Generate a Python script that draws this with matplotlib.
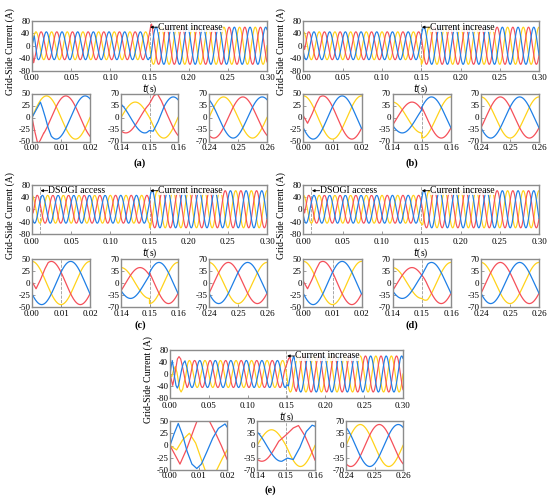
import numpy as np
import matplotlib
matplotlib.use('Agg')
import matplotlib.pyplot as plt

plt.rcParams['font.family'] = ['Liberation Serif', 'DejaVu Serif']
plt.rcParams['axes.unicode_minus'] = False
plt.rcParams['font.size'] = 6.5

W, H = 550, 501

# waveform parameters
freq = 50.0
amp_before = 45.0
amp_after = 60.0
t_step = 0.15
phase_yellow, phase_red, phase_blue = 0.0, -120.0, 120.0

panel_names = ['a', 'b', 'c', 'd', 'e']
panel_shift = [0.0, 90.0, 90.0, 90.0, 0.0]
panel_ramp = [0.0, 0.0, 0.0, 0.002, 0.0]
panel_events = [[0.15], [0.15], [0.01, 0.15], [0.01, 0.15], [0.15]]
panel_notes = [[(0.15, 'Current increase')],
               [(0.15, 'Current increase')],
               [(0.01, 'DSOGI access'), (0.15, 'Current increase')],
               [(0.01, 'DSOGI access'), (0.15, 'Current increase')],
               [(0.15, 'Current increase')]]

# transient parts read point by point
a_red_start_t = [0, 0.001, 0.002, 0.0028, 0.004]
a_red_start_v = [0, -30, -55, -48, -33]
a_blue_start_t = [0, 0.001, 0.002, 0.0029, 0.0036, 0.0046, 0.0056, 0.0065]
a_blue_start_v = [0, 11, 22, 32, 20, 0, -22, -37]
a_blue_step_t = [0.149, 0.150, 0.1513, 0.153, 0.155]
a_blue_step_v = [-44, -38, -40, -12, 30]
a_red_step_t = [0.1499, 0.1515, 0.1527, 0.1542, 0.1555]
a_red_step_v = [39, 63, 70, 48, 22]

bcd_red_start_t = [0, 0.0014, 0.003, 0.0045, 0.0055]
bcd_red_start_v = [3, -12, 8, 30, 42]

e_blue_start_t = [0, 0.0015, 0.0029, 0.0045, 0.006, 0.0077, 0.0094, 0.011, 0.013, 0.015, 0.017, 0.0193, 0.0215]
e_blue_start_v = [0, 25, 45, 20, -12, -38, -47, -38, -12, 15, 35, 44, 25]
e_red_start_t = [0, 0.0035, 0.006, 0.0085, 0.0095, 0.0116, 0.0138, 0.016, 0.018, 0.02, 0.022]
e_red_start_v = [0, -38, -5, 35, 50, 58, 50, 25, 0, -28, -45]
e_yellow_start_t = [0, 0.0023, 0.0045, 0.0068, 0.009, 0.0123, 0.0143, 0.0164, 0.0185, 0.02, 0.0225]
e_yellow_start_v = [0, -9, 12, 25, 5, -50, -60, -50, -25, -10, 32]
e_blue_step_t = [0.1486, 0.1505, 0.1525, 0.1548, 0.157, 0.159, 0.160, 0.1615]
e_blue_step_v = [-45, -36, -40, -5, 40, 58, 55, 33]
e_red_step_t = [0.1475, 0.150, 0.1525, 0.1543, 0.1565, 0.158, 0.160, 0.1625]
e_red_step_v = [12, 30, 50, 57, 28, 0, -42, -58]

transients = {
    ('a', 'red'): [(a_red_start_t, a_red_start_v), (a_red_step_t, a_red_step_v)],
    ('a', 'blue'): [(a_blue_start_t, a_blue_start_v), (a_blue_step_t, a_blue_step_v)],
    ('b', 'red'): [(bcd_red_start_t, bcd_red_start_v)],
    ('c', 'red'): [(bcd_red_start_t, bcd_red_start_v)],
    ('d', 'red'): [(bcd_red_start_t, bcd_red_start_v)],
    ('e', 'yellow'): [(e_yellow_start_t, e_yellow_start_v)],
    ('e', 'red'): [(e_red_start_t, e_red_start_v), (e_red_step_t, e_red_step_v)],
    ('e', 'blue'): [(e_blue_start_t, e_blue_start_v), (e_blue_step_t, e_blue_step_v)],
}

colors = {'yellow': '#ffd21a', 'red': '#f5505a', 'blue': '#1f7fe6'}
phases = {'yellow': phase_yellow, 'red': phase_red, 'blue': phase_blue}

# pixel boxes (left, top, right, bottom)
main_boxes = [(32, 21, 267, 70.5), (303.5, 21, 539, 70.5),
              (32, 184.5, 267, 234), (303.5, 184.5, 539, 234),
              (170, 350, 403, 398)]
inset_y = [(93.5, 141.5), (93.5, 141.5), (259, 307), (259, 307), (421, 470)]
inset_x_left = [(32, 90), (121, 178), (209, 267)]
inset_x_right = [(303.5, 361.5), (392.5, 451), (481, 539)]
inset_x_e = [(170, 227), (257, 315), (346, 403)]
label_pos = [(140, 163), (412, 163), (140, 325), (412, 325), (270, 490)]

inset_xlim = [(0.0, 0.02), (0.14, 0.16), (0.24, 0.26)]
inset_xticks = [[0.0, 0.01, 0.02], [0.14, 0.15, 0.16], [0.24, 0.25, 0.26]]
inset_ylim = [(-50, 50), (-70, 70), (-70, 70)]
inset_yticks = [[-50, -25, 0, 25, 50], [-70, -35, 0, 35, 70], [-70, -35, 0, 35, 70]]


def box(l, t, r, b):
    return [l / W, 1 - b / H, (r - l) / W, (b - t) / H]


def phase_wave(t, shift, phase, ramp):
    if ramp > 0:
        amp = amp_before + (amp_after - amp_before) * np.clip((t - t_step) / ramp, 0, 1)
    else:
        amp = np.where(t < t_step, amp_before, amp_after)
    return amp * np.sin(2 * np.pi * freq * t + np.radians(shift + phase))


def patch(t, y, pts_t, pts_v):
    pts_t = np.array(pts_t)
    pts_v = np.array(pts_v, dtype=float)
    keep = (t < pts_t[0]) | (t > pts_t[-1])
    t2 = np.concatenate([t[keep], pts_t])
    y2 = np.concatenate([y[keep], pts_v])
    order = np.argsort(t2, kind='stable')
    return t2[order], y2[order]


def style(ax, xpad):
    for s in ax.spines.values():
        s.set_color('#8c8c8c')
        s.set_linewidth(1.0)
    ax.tick_params(direction='in', length=2, width=0.6, color='#8c8c8c',
                   labelsize=6.5)
    ax.tick_params(axis='x', pad=xpad)
    ax.tick_params(axis='y', pad=1.2)


fig = plt.figure(figsize=(W / 100, H / 100), dpi=100)
t = np.linspace(0, 0.3, 30001)

for i, name in enumerate(panel_names):
    series = []
    for ph in ['yellow', 'red', 'blue']:
        y = phase_wave(t, panel_shift[i], phases[ph], panel_ramp[i])
        tt = t
        for pts_t, pts_v in transients.get((name, ph), []):
            tt, y = patch(tt, y, pts_t, pts_v)
        series.append((ph, tt, y))

    ax = fig.add_axes(box(*main_boxes[i]))
    for ph, tt, y in series:
        ax.plot(tt, y, color=colors[ph], lw=0.85)
    for ev in panel_events[i]:
        ax.axvline(ev, color='#9a9a9a', ls='--', lw=0.6, zorder=0.5)
    for ev, txt in panel_notes[i]:
        ax.annotate(txt, xy=(ev + 0.0008, 60), xytext=(ev + 0.011, 60),
                    ha='left', va='center', fontsize=7,
                    bbox=dict(fc='white', ec='none', pad=0.2, alpha=0.85),
                    arrowprops=dict(arrowstyle='-|>', color='k', lw=0.6,
                                    shrinkA=0, shrinkB=0, mutation_scale=4))
    ax.set_xlim(0, 0.3)
    ax.set_ylim(-80, 80)
    ax.set_xticks(np.arange(0, 0.301, 0.05))
    ax.set_xticklabels(['%.2f' % v for v in np.arange(0, 0.301, 0.05)])
    ax.set_yticks([-80, -40, 0, 40, 80])
    ax.set_xlabel('$t$(s)', fontsize=7, labelpad=0.3)
    style(ax, 2.6)

    l, tp, r, b = main_boxes[i]
    fig.text((l - 22) / W, 1 - ((tp + b) / 2 + 6) / H, 'Grid-Side Current (A)',
             rotation=90, ha='center', va='center', fontsize=7)

    if name in ['a', 'c']:
        xs = inset_x_left
    elif name in ['b', 'd']:
        xs = inset_x_right
    else:
        xs = inset_x_e
    for k in range(3):
        axi = fig.add_axes(box(xs[k][0], inset_y[i][0], xs[k][1], inset_y[i][1]))
        for ph, tt, y in series:
            axi.plot(tt, y, color=colors[ph], lw=0.9)
        for ev in panel_events[i]:
            if inset_xlim[k][0] < ev < inset_xlim[k][1]:
                axi.axvline(ev, color='#9a9a9a', ls='--', lw=0.6, zorder=0.5)
        axi.set_xlim(*inset_xlim[k])
        axi.set_ylim(*inset_ylim[k])
        axi.set_xticks(inset_xticks[k])
        axi.set_xticklabels(['%.2f' % v for v in inset_xticks[k]])
        axi.set_yticks(inset_yticks[k])
        style(axi, 1.8)

    fig.text(label_pos[i][0] / W, 1 - label_pos[i][1] / H, '(' + name + ')',
             ha='center', va='center', fontsize=7.5, fontweight='bold')

fig.savefig('out.png', dpi=100)
